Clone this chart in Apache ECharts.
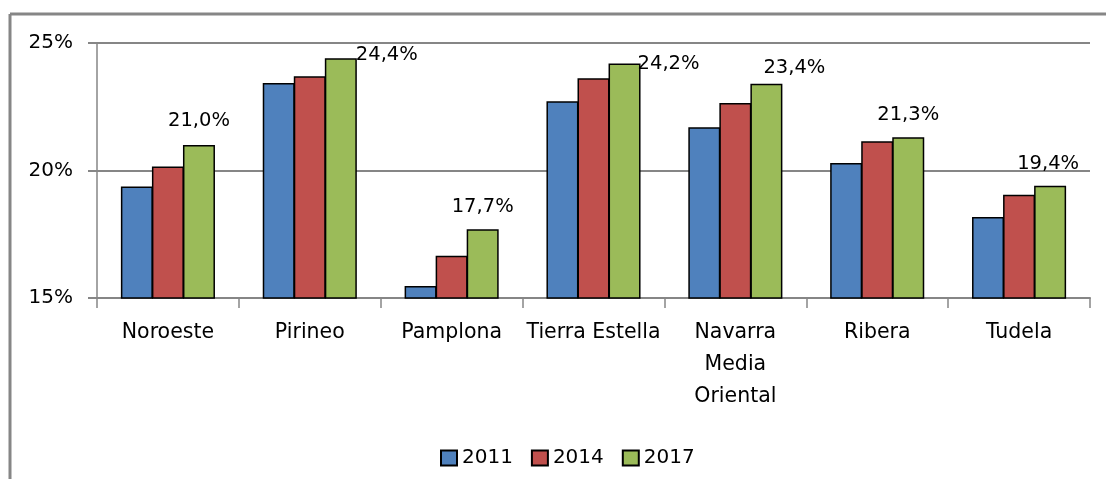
<!DOCTYPE html>
<html>
<head>
<meta charset="utf-8">
<script src="https://cdn.jsdelivr.net/npm/echarts@6/dist/echarts.min.js"></script>
<style>
html,body{margin:0;padding:0;background:#fff;}
#chart{width:1106px;height:479px;}
</style>
</head>
<body>
<div id="chart"></div>
<script>
var categories = ['Noroeste', 'Pirineo', 'Pamplona', 'Tierra Estella', 'Navarra\nMedia\nOriental', 'Ribera', 'Tudela'];
var seriesNames = ['2011', '2014', '2017'];
var values2011 = [19.37, 23.43, 15.47, 22.72, 21.70, 20.29, 18.18];
var values2014 = [20.16, 23.70, 16.66, 23.62, 22.65, 21.15, 19.05];
var values2017 = [21.0, 24.4, 17.7, 24.2, 23.4, 21.3, 19.4];
var yTicks = [15, 20, 25];

var colors = ['#4F81BD', '#C0504D', '#9BBB59'];
var FONT = 'DejaVu Sans';
var labelOffsets = [[0, -2], [46, 19], [0, 0], [44, 23], [28, 6], [0, 0], [-2, 0]];

function fmt(v) { return v.toFixed(1).replace('.', ',') + '%'; }

var chart = echarts.init(document.getElementById('chart'), null, {renderer: 'canvas'});

function barSeries(name, data, color, withLabels) {
  return {
    name: name,
    type: 'bar',
    barWidth: 32,
    barGap: '-3%',
    itemStyle: {color: color, borderColor: '#000', borderWidth: 1.5},
    emphasis: {disabled: true},
    data: data.map(function (v, i) {
      var item = {value: v};
      if (withLabels) {
        item.label = {
          show: true, position: 'top', distance: 12,
          offset: labelOffsets[i],
          formatter: function (p) { return fmt(p.value); },
          fontFamily: FONT, fontSize: 19.5, color: '#000'
        };
      }
      return item;
    })
  };
}

chart.setOption({
  animation: false,
  backgroundColor: '#fff',
  color: colors,
  textStyle: {fontFamily: FONT},
  graphic: [
    {type: 'line', shape: {x1: 10, y1: 14, x2: 1120, y2: 14}, style: {stroke: '#868686', lineWidth: 3}},
    {type: 'line', shape: {x1: 10, y1: 14, x2: 10, y2: 490}, style: {stroke: '#868686', lineWidth: 3}}
  ],
  grid: {left: 97, right: 16, top: 43, bottom: 181, containLabel: false},
  legend: {
    data: seriesNames,
    left: 435, top: 443,
    itemWidth: 16, itemHeight: 15, itemGap: 18,
    textStyle: {fontFamily: FONT, fontSize: 20, color: '#000'},
    icon: 'rect'
  },
  xAxis: {
    type: 'category',
    data: categories,
    axisLine: {show: true, lineStyle: {color: '#868686', width: 2}},
    axisTick: {show: true, length: 10, lineStyle: {color: '#868686', width: 1.5}},
    axisLabel: {
      interval: 0, margin: 19, fontFamily: FONT, fontSize: 20.5, color: '#000',
      lineHeight: 32
    }
  },
  yAxis: {
    type: 'value',
    min: yTicks[0], max: yTicks[yTicks.length - 1], interval: 5,
    axisLine: {show: true, lineStyle: {color: '#868686', width: 1.5}},
    axisTick: {show: true, length: 9, lineStyle: {color: '#868686', width: 2}},
    axisLabel: {margin: 24, fontFamily: FONT, fontSize: 20, color: '#000', formatter: '{value}%'},
    splitLine: {show: true, lineStyle: {color: '#868686', width: 2}}
  },
  series: [
    barSeries(seriesNames[0], values2011, colors[0], false),
    barSeries(seriesNames[1], values2014, colors[1], false),
    barSeries(seriesNames[2], values2017, colors[2], true)
  ]
});
</script>
</body>
</html>
